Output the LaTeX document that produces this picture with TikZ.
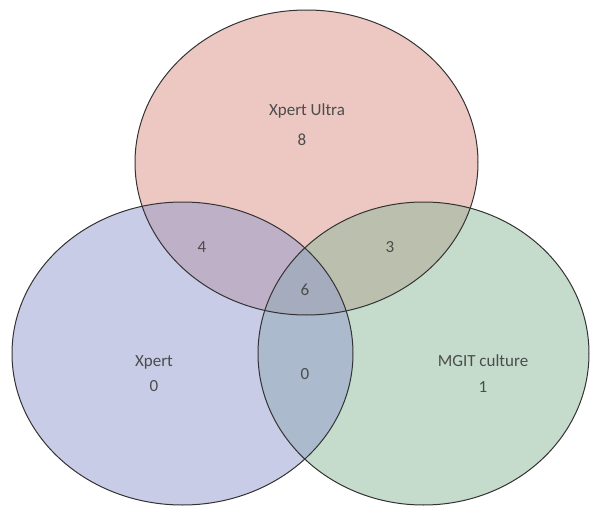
\documentclass[tikz,border=0pt]{standalone}
\usepackage{fontspec}
\setmainfont{Carlito}

\definecolor{ultrapink}{RGB}{219,145,133}
\definecolor{xpertblue}{RGB}{145,153,205}
\definecolor{mgitgreen}{RGB}{139,185,155}

\begin{document}
\begin{tikzpicture}[x=1pt, y=-1pt,
    setfill/.style={fill opacity=0.5},
    setrim/.style={draw=black!80, line width=1pt},
    count/.style={anchor=mid, text=black!70, font=\fontsize{17}{19}\selectfont}]
   \useasboundingbox (0,0) rectangle (590,506);
   % centres
   \coordinate (u) at (306.5, 162.5);
   \coordinate (x) at (182.5, 353.5);
   \coordinate (m) at (423.5, 353.5);

   % sets
   \fill[ultrapink, setfill] (u) ellipse [x radius=171.5, y radius=152.5];
   \fill[mgitgreen, setfill] (m) ellipse [x radius=165.5, y radius=151.5];
   \fill[xpertblue, setfill] (x) ellipse [x radius=170.5, y radius=151.5];

   \draw[setrim] (u) ellipse [x radius=171.5, y radius=152.5];
   \draw[setrim] (m) ellipse [x radius=165.5, y radius=151.5];
   \draw[setrim] (x) ellipse [x radius=170.5, y radius=151.5];

   % labels
   \node[count] (ultra) at (307, 113) {Xpert Ultra};
   \node[count] (ultraonly) at (302, 143) {8};
   \node[count] (xpert) at (154, 364) {Xpert};
   \node[count] (xpertonly) at (154, 389) {0};
   \node[count] (mgit) at (483, 364) {MGIT culture};
   \node[count] (mgitonly) at (483, 390) {1};

   \node[count] (ux) at (202, 250) {4};
   \node[count] (um) at (390, 250) {3};
   \node[count] (uxm) at (305, 293) {6};
   \node[count] (xm) at (305, 377) {0};
\end{tikzpicture}
\end{document}
